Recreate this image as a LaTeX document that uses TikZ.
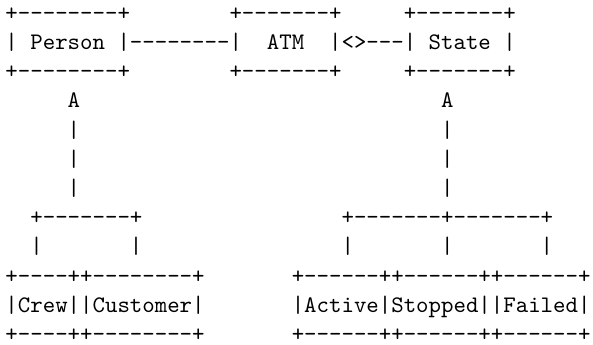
\documentclass[tikz,border=0pt]{standalone}
\usepackage{tikz}
\usetikzlibrary{positioning}
\tikzset{
  asc/.style={font=\ttfamily, anchor=base west, inner sep=0pt, outer sep=0pt}
}
\begin{document}
\begin{tikzpicture}[x=5.25pt, y=-12.31pt]
  \useasboundingbox (-0.44,-0.70) rectangle (47.2,11.12);
  % top boxes and their links
  \node[asc] (personTop) at (0,0) {+--------+};
  \node[asc] (atmTop) at (18,0) {+-------+};
  \node[asc] (stateTop) at (32,0) {+-------+};
  \node[asc] (person) at (0,1) {|~Person~|};
  \node[asc] (link) at (10,1) {--------};
  \node[asc] (atm) at (18,1) {|~~ATM~~|};
  \node[asc] (agg) at (27,1) {<>---};
  \node[asc] (state) at (32,1) {|~State~|};
  \node[asc] (personBot) at (0,2) {+--------+};
  \node[asc] (atmBot) at (18,2) {+-------+};
  \node[asc] (stateBot) at (32,2) {+-------+};
  % generalisation arrows
  \node[asc] (personGen) at (5,3) {A};
  \node[asc] (stateGen) at (35,3) {A};
  \foreach \r in {4,5,6} {
    \node[asc] (personBar\r) at (5,\r) {|};
    \node[asc] (stateBar\r) at (35,\r) {|};
  }
  \node[asc] (personFork) at (2,7) {+-------+};
  \node[asc] (stateFork) at (27,7) {+-------+-------+};
  \foreach \c in {2,10,27,35,43}
    \node[asc] (drop\c) at (\c,8) {|};
  % sub-classes
  \node[asc] (crewTop) at (0,9) {+----++--------+};
  \node[asc] (crew) at (0,10) {|Crew||Customer|};
  \node[asc] (crewBot) at (0,11) {+----++--------+};
  \node[asc] (activeTop) at (23,9) {+------++------++------+};
  \node[asc] (active) at (23,10) {|Active|Stopped||Failed|};
  \node[asc] (activeBot) at (23,11) {+------++------++------+};
\end{tikzpicture}
\end{document}
